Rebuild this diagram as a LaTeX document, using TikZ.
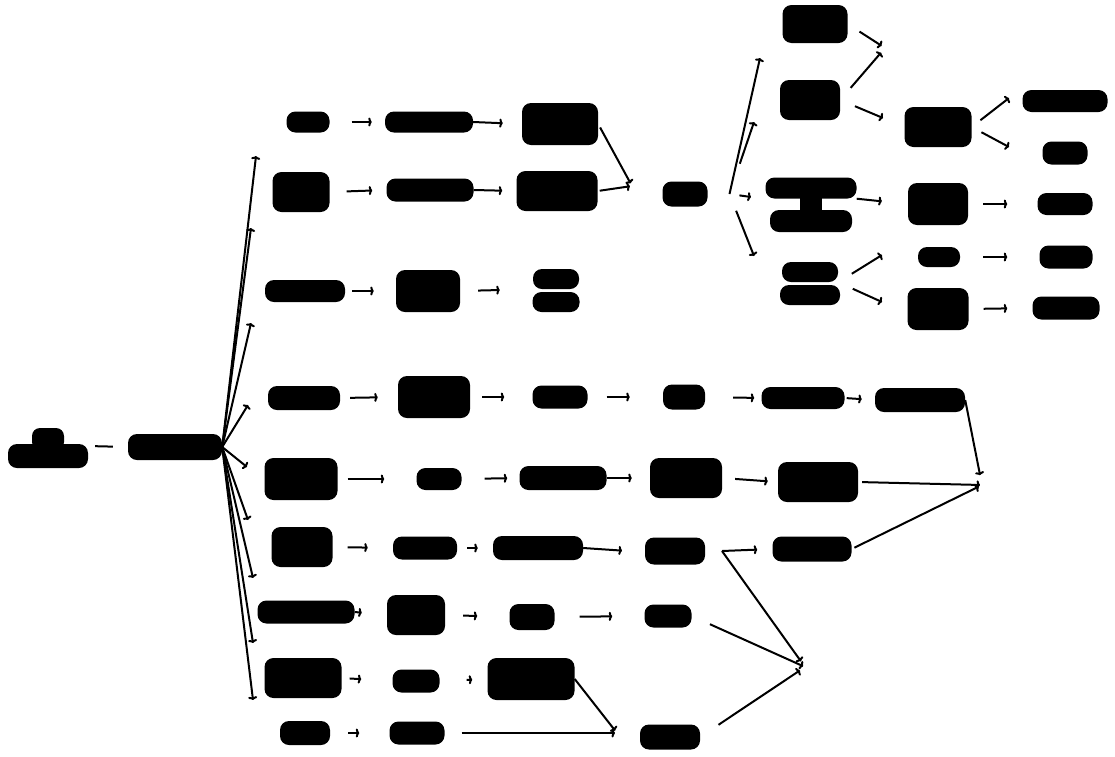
\documentclass[tikz,border=0pt]{standalone}
\usetikzlibrary{arrows.meta}
\tikzset{
  blob/.style={fill=black, rounded corners=9pt, inner sep=0pt},
  link/.style={line width=2pt, -{To[length=3.5pt,width=9pt]}},
  plain/.style={line width=2pt},
}
\begin{document}
\begin{tikzpicture}[x=1pt, y=-1pt]
  \useasboundingbox (0,0) rectangle (1115,756);

  % Blobs
  \foreach \n/\x/\y/\w/\h in {A1/175/447/94/26,
      b11/308/122/43/21, b12/429/122/88/21, b13/560/124/76/42,
      b21/301/192/57/40, b22/430/190/87/23, b23/557/191/81/40,
      b31/305/291/80/22, b32/428/291/64/42,
      b41/304/398/72/24, b42/434/397/72/42, b43/560/397/55/23,
      b44/684/397/42/25, b45/803/398/83/22, b46/920/400/90/24,
      b51/301/479/73/42, b52/439/479/45/22, b53/563/478/87/24,
      b54/686/478/72/40, b55/818/482/80/40,
      b61/302/547/61/40, b62/425/548/64/23, b63/538/548/90/24,
      b65/812/549/79/25,
      b71/306/612/97/23, b72/416/615/58/40, b73/532/617/45/26,
      b74/668/616/47/23,
      b81/303/678/77/40, b82/416/681/47/23, b83/531/679/87/42,
      b91/305/733/50/24, b92/417/733/55/23, b93/670/737/60/25,
      c1/815/24/65/38, c2/810/100/60/40,
      d1/938/127/67/40, d2/938/204/60/42, d3/939/257/42/20, d4/938/309/61/42,
      e1/1065/101/85/22, e2/1065/153/45/23, e3/1065/204/55/22,
      e4/1066/257/53/23, e5/1066/308/67/23}
    \node[blob, minimum width=\w pt, minimum height=\h pt] (\n) at (\x,\y) {};
  \node[blob, minimum width=45pt, minimum height=25pt, outer xsep=22pt] (b24) at (685,194) {};
  \node[blob, minimum width=60pt, minimum height=27pt, outer xsep=17pt] (b64) at (675,551) {};

  % Two-line blobs
  \node[inner sep=0pt, minimum width=80pt, minimum height=40pt] (A0) at (48,446) {};
  \fill[rounded corners=9pt] (8,444) rectangle (88,468);
  \fill[rounded corners=8pt] (32,428) rectangle (64,450);
  \node[blob, minimum width=91pt, minimum height=21pt] (c3) at (811,188) {};
  \node[blob, minimum width=82pt, minimum height=22pt] (c3b) at (811,221) {};
  \fill (800,195) rectangle (822,212);
  \node[blob, minimum width=56pt, minimum height=20pt] (c4) at (810,272) {};
  \node[blob, minimum width=60pt, minimum height=20pt] (c4b) at (810,295) {};
  \node[blob, minimum width=46pt, minimum height=20pt] (b33) at (556,279) {};
  \node[blob, minimum width=47pt, minimum height=20pt] (b33b) at (556,302) {};

  % Hubs and free ends
  \coordinate (H1) at (632,186);
  \coordinate (H2) at (885,48);
  \coordinate (H3) at (982,485);
  \coordinate (H4) at (805,667);
  \coordinate (H5) at (617,733);
  \foreach \i/\x/\y in {1/256/156, 2/251/228, 3/251/323, 4/248/405, 5/247/467,
      6/248/520, 7/253/578, 8/253/643, 9/253/700}
    \coordinate (F\i) at (\x,\y);
  \foreach \i/\x/\y in {1/760/58, 2/754/122, 3/751/197, 4/754/256}
    \coordinate (G\i) at (\x,\y);
  \foreach \i/\x/\y in {1/883/118, 2/882/255, 3/882/302, 4/1009/98, 5/1009/147}
    \coordinate (P\i) at (\x,\y);

  % Root
  \draw[plain, shorten <=7pt, shorten >=15pt] (A0.east) -- (A1.west);
  \foreach \i in {1,...,9}
    \draw[link] (A1.east) -- (F\i);

  % Links
  \foreach \a/\b/\s/\t in {b11.east/b12.west/22/13, b12.east/b13.west/0/19,
      b13.east/H1/4/3, b21.east/b22.west/17/14, b22.east/b23.west/0/14,
      b23.east/H1/2/2,
      b24.east/G1/0/0, b24.east/G2/32/0, b24.east/G3/10/0, b24.east/G4/18/0,
      c1.east/H2/14/4, c2.east/H2/16/6, c2.east/P1/16/0,
      c3.south east/d2.west/0/26, c4.south east/P2/16/0, c4.south east/P3/16/0,
      d1.east/P4/11/0, d1.east/P5/11/0,
      d2.east/e3.west/15/30, d3.east/e4.west/23/32, d4.east/e5.west/15/25,
      b31.east/b32.west/7/22, b32.east/b33.south west/18/33,
      b41.east/b42.west/10/20, b42.east/b43.west/12/28, b43.east/b44.west/19/33,
      b44.east/b45.west/28/7, b45.east/b46.west/2/13, b46.east/H3/0/10,
      b51.east/b52.west/10/32, b52.east/b53.west/23/12, b53.east/b54.west/0/18,
      b54.east/b55.west/13/10, b55.east/H3/4/2,
      b61.east/b62.west/15/25, b62.east/b63.west/10/15, b63.east/b64.west/0/6,
      b64.east/b65.west/0/15, b64.east/H4/0/7, b65.east/H3/3/4,
      b71.east/b72.west/0/25, b72.east/b73.west/18/32, b73.east/b74.west/25/32,
      b74.east/H4/20/2,
      b81.east/b82.west/8/31, b82.east/b83.west/27/15, b83.east/H5/0/3,
      b91.east/b92.west/18/30, b92.east/H5/17/2, b93.east/H4/22/6}
    \draw[link, shorten <=\s pt, shorten >=\t pt] (\a) -- (\b);
\end{tikzpicture}
\end{document}
